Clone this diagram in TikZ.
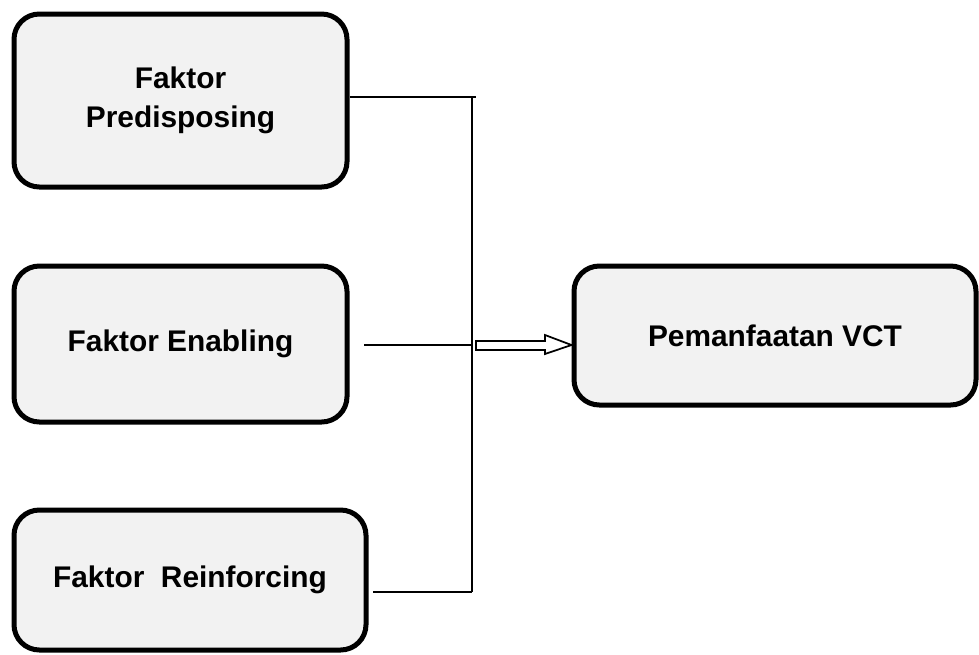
\documentclass[tikz,border=0pt]{standalone}
\usepackage{fontspec}
\setmainfont{Liberation Sans}
\begin{document}
\begin{tikzpicture}[x=0.75pt,y=-0.75pt,
  fbox/.style={draw=black, line width=3.75pt, fill=black!5, rounded corners=19pt,
    inner sep=0pt, align=center, font=\bfseries\fontsize{22.4}{29}\selectfont},
  conn/.style={draw=black, line width=1.3pt},
  hollow/.style={draw=black, line width=1.3pt, fill=white}]
\useasboundingbox (0,0) rectangle (979,654);
\node[fbox, minimum width=249.75pt, minimum height=129.75pt] (pre) at (180.5,100.5) {Faktor\\Predisposing};
\node[fbox, minimum width=249.75pt, minimum height=117pt] (ena) at (180.5,344) {Faktor Enabling};
\node[fbox, minimum width=264pt, minimum height=105pt] (rei) at (190,580) {\raisebox{-3pt}{Faktor\ \ Reinforcing}};
\node[fbox, minimum width=301.5pt, minimum height=104.25pt] (vct) at (775,335.5) {Pemanfaatan VCT};
\coordinate (jt) at (472,97);
\coordinate (jtx) at (476,97);
\coordinate (jm) at (472,345);
\coordinate (jb) at (472,592);
\coordinate (ms) at (364,345);
\coordinate (bs) at (373,592);
\draw[conn] (pre.east |- jt) -- (jtx);
\draw[conn] (jt) -- (jb);
\draw[conn] (ms) -- (jm);
\draw[conn] (bs) -- (jb);
\draw[hollow] (476,341) -- (545,341) -- (545,335) -- (vct.west |- jm) -- (545,354) -- (545,350) -- (476,350) -- cycle;
\end{tikzpicture}
\end{document}
